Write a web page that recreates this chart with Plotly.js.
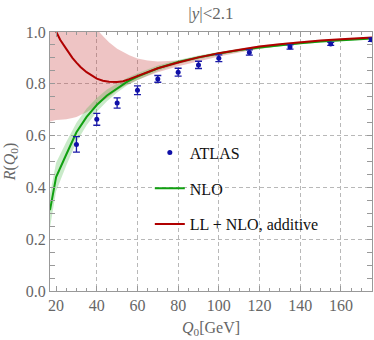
<!DOCTYPE html>
<html>
<head>
<meta charset="utf-8">
<script src="https://cdn.plot.ly/plotly-3.0.1.min.js"></script>
<style>
  html, body { margin: 0; padding: 0; background: #fff; }
  #chart { width: 374px; height: 340px; }
</style>
</head>
<body>
<div id="chart"></div>
<script>
// ATLAS data points
const atlasQ = [30, 40, 50, 60, 70, 80, 90, 100, 115, 135, 155, 175];
const atlasR = [0.566, 0.663, 0.726, 0.775, 0.819, 0.845, 0.873, 0.899, 0.921, 0.942, 0.954, 0.970];
const atlasErr = [0.03, 0.023, 0.02, 0.017, 0.013, 0.015, 0.014, 0.013, 0.01, 0.008, 0.006, 0.006];

// NLO curve + band
const nloQ = [17, 20, 25, 30, 35, 40, 45, 50, 55, 60, 70, 80, 90, 100, 110, 120, 130, 140, 150, 160, 175.3];
const nloR = [0.312, 0.44, 0.527, 0.613, 0.672, 0.718, 0.755, 0.783, 0.808, 0.828, 0.86, 0.884, 0.902, 0.917, 0.93, 0.94, 0.949, 0.957, 0.963, 0.968, 0.975];
const nloLo = [0.245, 0.385, 0.485, 0.575, 0.64, 0.692, 0.733, 0.766, 0.794, 0.814, 0.849, 0.876, 0.895, 0.911, 0.924, 0.935, 0.945, 0.953, 0.96, 0.965, 0.972];
const nloHi = [0.375, 0.495, 0.575, 0.65, 0.705, 0.745, 0.778, 0.802, 0.823, 0.841, 0.871, 0.892, 0.909, 0.923, 0.935, 0.945, 0.953, 0.961, 0.966, 0.971, 0.978];

// LL + NLO, additive
const llQ = [17, 20, 22, 25, 28, 30, 32, 35, 38, 40, 43, 46, 50, 53, 56, 60, 65, 70, 80, 90, 100, 110, 120, 130, 140, 150, 160, 175.3];
const llR = [1.05, 1.005, 0.97, 0.935, 0.9, 0.882, 0.865, 0.845, 0.828, 0.82, 0.812, 0.808, 0.807, 0.81, 0.818, 0.83, 0.846, 0.86, 0.882, 0.902, 0.918, 0.932, 0.944, 0.953, 0.961, 0.967, 0.972, 0.979];
const llLo = [0.654, 0.66, 0.661, 0.663, 0.668, 0.672, 0.68, 0.69, 0.705, 0.72, 0.735, 0.75, 0.775, 0.79, 0.80, 0.815, 0.83, 0.845, 0.868, 0.888, 0.905, 0.921, 0.935, 0.946, 0.955, 0.962, 0.968, 0.975];
const llHi = [1.3, 1.25, 1.22, 1.18, 1.14, 1.12, 1.09, 1.06, 1.03, 1.01, 0.985, 0.96, 0.935, 0.922, 0.91, 0.898, 0.89, 0.886, 0.89, 0.907, 0.922, 0.936, 0.948, 0.956, 0.964, 0.969, 0.974, 0.981];

const xTicks = [20, 40, 60, 80, 100, 120, 140, 160];
const gridQ = [40, 60, 80, 100, 120, 140, 160];
const yTicks = [0, 0.2, 0.4, 0.6, 0.8, 1.0];

const serif = '"Liberation Serif", "Times New Roman", Times, serif';
const gray = '#666';

const traces = [
  // invisible trace so the grid axis is drawn
  { x: [17], y: [0], xaxis: 'x2', mode: 'markers', marker: { opacity: 0 },
    showlegend: false, hoverinfo: 'skip' },
  { x: llQ, y: llLo, mode: 'lines', line: { width: 0 }, showlegend: false, hoverinfo: 'skip' },
  { x: llQ, y: llHi, mode: 'lines', line: { width: 0 }, fill: 'tonexty',
    fillcolor: 'rgba(200,60,60,0.3)', showlegend: false, hoverinfo: 'skip' },
  { x: nloQ, y: nloLo, mode: 'lines', line: { width: 0 }, showlegend: false, hoverinfo: 'skip' },
  { x: nloQ, y: nloHi, mode: 'lines', line: { width: 0 }, fill: 'tonexty',
    fillcolor: 'rgba(60,180,60,0.28)', showlegend: false, hoverinfo: 'skip' },
  { x: nloQ, y: nloR, mode: 'lines', name: 'NLO', legendrank: 2, legendgroup: 'nlo',
    line: { color: '#10a010', width: 2 } },
  { x: llQ, y: llR, mode: 'lines', name: 'LL + NLO, additive', legendrank: 3, legendgroup: 'll',
    line: { color: '#b00000', width: 2 } },
  { x: atlasQ, y: atlasR, mode: 'markers', name: 'ATLAS', legendrank: 1, legendgroup: 'atlas',
    marker: { color: '#1010a8', size: 5 },
    error_y: { type: 'data', array: atlasErr, color: '#1a1aa8', thickness: 1.3, width: 3.5 } }
];

const layout = {
  width: 374, height: 340,
  margin: { l: 50, r: 2, t: 32, b: 49 },
  paper_bgcolor: '#fff', plot_bgcolor: '#fff',
  font: { family: serif, size: 16, color: gray },
  title: { text: '|<i>y</i>|&lt;2.1', x: 0.564, xanchor: 'center', y: 0.962, yanchor: 'middle',
    font: { family: serif, size: 17, color: gray } },
  showlegend: true,
  legend: { x: 0.31, xanchor: 'left', y: 0.6, yanchor: 'top', bgcolor: 'rgba(0,0,0,0)',
    traceorder: 'grouped', tracegroupgap: 12,
    font: { family: serif, size: 16, color: '#111' } },
  xaxis: {
    range: [17, 175.3], tickvals: xTicks,
    showgrid: false, zeroline: false,
    showline: true, linecolor: '#999', linewidth: 1, mirror: 'allticks',
    ticks: 'inside', ticklen: 5, tickcolor: '#999',
    minor: { dtick: 5, tick0: 0, ticks: 'inside', ticklen: 3, tickcolor: '#999', showgrid: false },
    tickfont: { family: serif, size: 16, color: gray },
    title: { text: '<i>Q</i><sub>0</sub>[GeV]', standoff: 8, font: { family: serif, size: 16, color: gray } }
  },
  xaxis2: {
    overlaying: 'x', matches: 'x', range: [17, 175.3], tickvals: gridQ,
    showgrid: true, gridcolor: '#b8b8b8', griddash: '4px,3px', gridwidth: 1,
    showticklabels: false, ticks: '', showline: false, zeroline: false
  },
  yaxis: {
    range: [0, 1], tickvals: yTicks, tickformat: '.1f',
    showgrid: true, gridcolor: '#b8b8b8', griddash: '4px,3px', gridwidth: 1, zeroline: false,
    showline: true, linecolor: '#999', linewidth: 1, mirror: 'allticks',
    ticks: 'inside', ticklen: 5, tickcolor: '#999',
    minor: { dtick: 0.05, tick0: 0, ticks: 'inside', ticklen: 3, tickcolor: '#999', showgrid: false },
    tickfont: { family: serif, size: 16, color: gray },
    title: { text: '<i>R</i>(<i>Q</i><sub>0</sub>)', standoff: 6, font: { family: serif, size: 16, color: gray } }
  }
};

Plotly.newPlot('chart', traces, layout, { staticPlot: true });
</script>
</body>
</html>
